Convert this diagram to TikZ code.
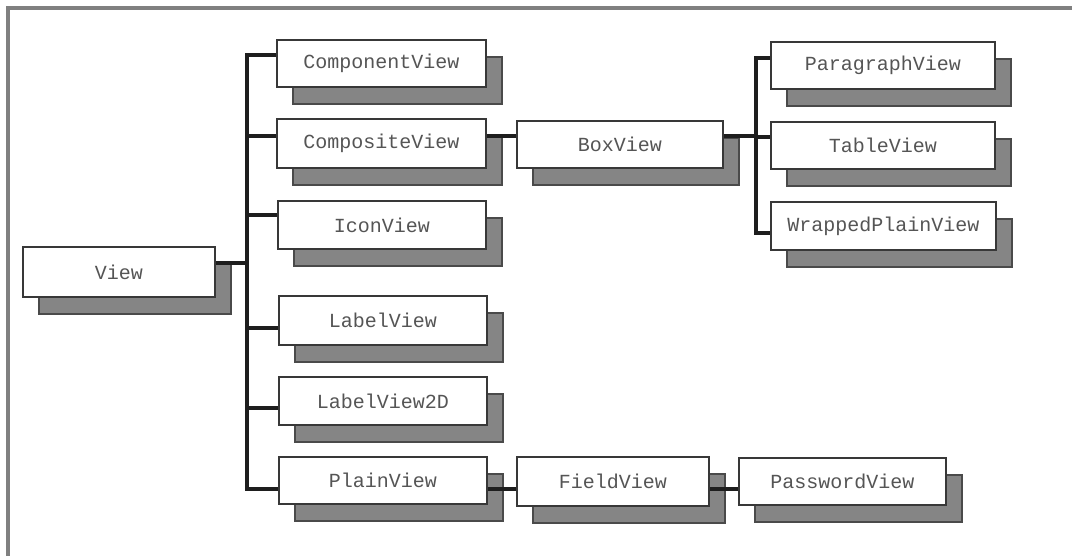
\documentclass[tikz,border=0pt]{standalone}
\usepackage{fontspec}
\setmonofont{Liberation Mono}
\usetikzlibrary{shadows}
\definecolor{framegray}{HTML}{808080}
\definecolor{shadegray}{HTML}{858585}
\definecolor{shadeedge}{HTML}{4A4A4A}
\definecolor{boxedge}{HTML}{383838}
\definecolor{txtgray}{HTML}{555555}
\definecolor{conncol}{HTML}{1E1E1E}
\tikzset{
  cls/.style={draw=boxedge, line width=1.6pt, fill=white, rectangle, inner sep=0pt,
    text=txtgray, font=\ttfamily\fontsize{20}{22}\selectfont,
    general shadow={shadow xshift=16pt, shadow yshift=-17pt, fill=shadegray, draw=shadeedge, line width=1.4pt}},
  conn/.style={draw=conncol, line width=3.6pt},
  frameline/.style={draw=framegray, line width=4.5pt}
}
\begin{document}
\begin{tikzpicture}[x=1pt,y=-1pt]
\useasboundingbox (0,0) rectangle (1072,556);
\fill[white] (0,0) rectangle (1072,556);
\draw[frameline] (8,556) -- (8,8) -- (1072,8);

% nodes
\node[cls, minimum width=192pt, minimum height=50pt] (view) at (119,272) {View};
\node[cls, minimum width=209pt, minimum height=47pt] (comp) at (381.5,63.5) {ComponentView};
\node[cls, minimum width=209pt, minimum height=49pt] (composite) at (381.5,143.5) {CompositeView};
\node[cls, minimum width=208pt, minimum height=48pt] (icon) at (382,225) {IconView};
\node[cls, minimum width=208pt, minimum height=49pt] (label) at (383,320.5) {LabelView};
\node[cls, minimum width=208pt, minimum height=48pt] (label2d) at (383,401) {LabelView2D};
\node[cls, minimum width=208pt, minimum height=47pt] (plain) at (383,480.5) {PlainView};
\node[cls, minimum width=206pt, minimum height=47pt] (box) at (620,144.5) {BoxView};
\node[cls, minimum width=192pt, minimum height=49pt] (field) at (613,481.5) {FieldView};
\node[cls, minimum width=207pt, minimum height=47pt] (password) at (842.5,481.5) {PasswordView};
\node[cls, minimum width=224pt, minimum height=47pt] (para) at (883,65.5) {ParagraphView};
\node[cls, minimum width=224pt, minimum height=47pt] (table) at (883,145.5) {TableView};
\node[cls, minimum width=225pt, minimum height=48pt] (wrapped) at (883.5,226) {WrappedPlainView};

% spines
\coordinate (sp1) at (247,300);
\coordinate (sp2) at (756,150);

\draw[conn] ([yshift=8.5pt]comp.west) -| (sp1) |- ([yshift=-8.5pt]plain.west);
\draw[conn] ([yshift=9pt]view.east) -- ([yshift=9pt]view.east -| sp1);
\draw[conn] ([yshift=7.5pt]composite.west -| sp1) -- ([yshift=7.5pt]composite.west);
\draw[conn] ([yshift=10pt]icon.west -| sp1) -- ([yshift=10pt]icon.west);
\draw[conn] ([yshift=-7.5pt]label.west -| sp1) -- ([yshift=-7.5pt]label.west);
\draw[conn] ([yshift=-7pt]label2d.west -| sp1) -- ([yshift=-7pt]label2d.west);

\draw[conn] ([yshift=7.5pt]composite.east) -- ([yshift=8.5pt]box.west);

\draw[conn] ([yshift=7.5pt]para.west) -| (sp2) |- ([yshift=-7pt]wrapped.west);
\draw[conn] ([yshift=8.5pt]box.east) -- ([yshift=8.5pt]box.east -| sp2);
\draw[conn] ([yshift=8.5pt]table.west -| sp2) -- ([yshift=8.5pt]table.west);

\draw[conn] ([yshift=-8.5pt]plain.east) -- ([yshift=-7.5pt]field.west);
\draw[conn] ([yshift=-7.5pt]field.east) -- ([yshift=-7.5pt]password.west);
\end{tikzpicture}
\end{document}
